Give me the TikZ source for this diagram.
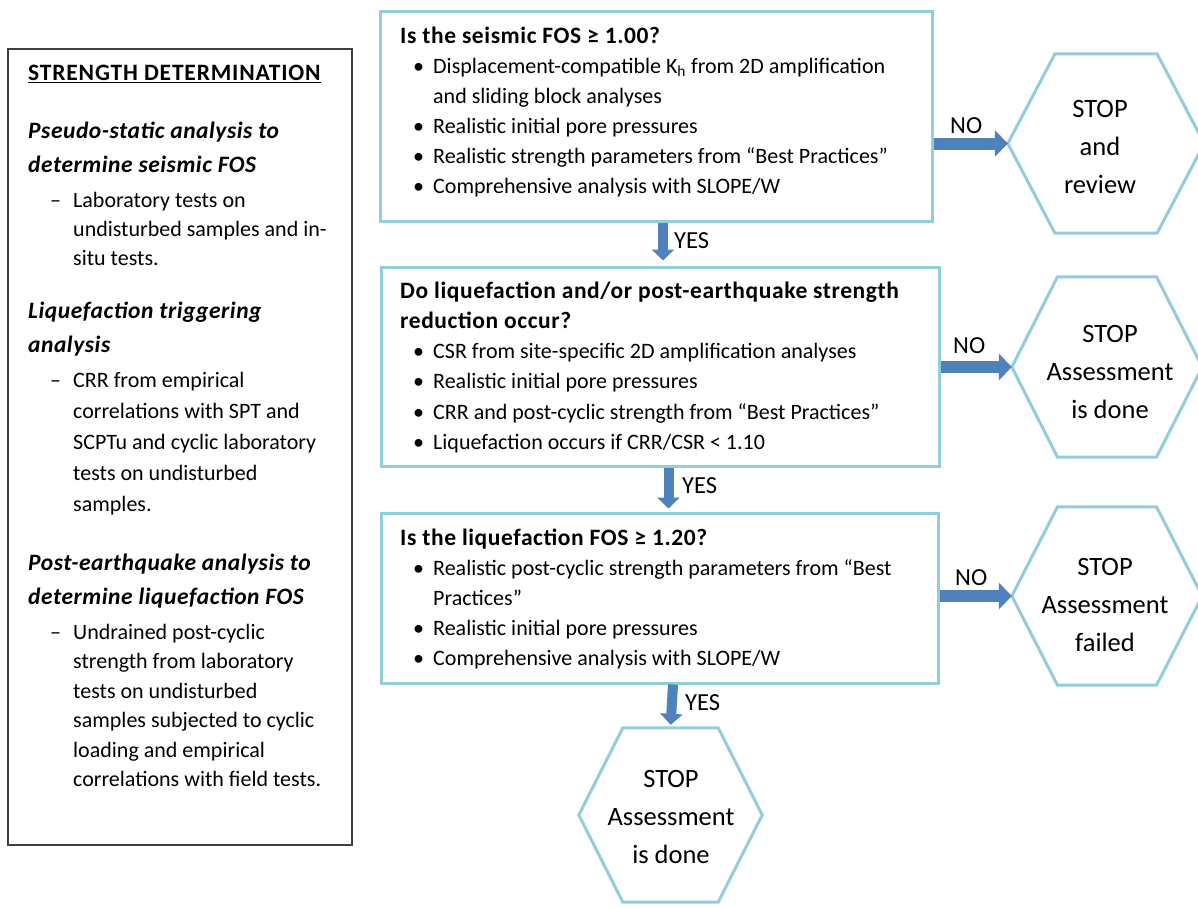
\documentclass[tikz,border=0pt]{standalone}
\usepackage{fontspec}
\setmainfont{Carlito}
\usetikzlibrary{arrows.meta,calc}
\definecolor{boxblue}{HTML}{92CDDC}
\definecolor{arrblue}{HTML}{4F81BD}
\definecolor{panelgray}{HTML}{404040}
\newcommand\bul{\makebox[33pt][l]{\hspace*{13pt}•}}
\newcommand\ind{\hspace*{33pt}}
\newcommand\dsh{\makebox[23pt][l]{–}}
\newcommand\bhead[1]{{\fontsize{23.5}{30}\selectfont\bfseries\addfontfeature{LetterSpace=2.5}#1}}
\newcommand\hexagonof[1]{\draw[hexline] (#1.west) -- ($(#1.north west)!0.24!(#1.north east)$) -- ($(#1.north west)!0.76!(#1.north east)$) -- (#1.east) -- ($(#1.south west)!0.76!(#1.south east)$) -- ($(#1.south west)!0.24!(#1.south east)$) -- cycle;}
\begin{document}
\begin{tikzpicture}[x=1pt,y=-1pt,
  qbox/.style={draw=boxblue, line width=3pt, inner sep=0pt},
  hexbox/.style={inner sep=0pt},
  hexline/.style={draw=boxblue, line width=3pt, line join=miter},
  panel/.style={draw=panelgray, line width=1.3pt, inner sep=0pt},
  boxtext/.style={anchor=north west, inner sep=0pt, align=left, font=\fontsize{22}{30}\selectfont},
  hextext/.style={anchor=north, inner sep=0pt, align=center, font=\fontsize{26.5}{38}\selectfont},
  lbl/.style={anchor=base west, inner sep=0pt, font=\fontsize{24.5}{28}\selectfont},
  harrow/.style={draw=arrblue, line width=12pt, -{Triangle[length=13pt,width=26pt]}},
  varrow/.style={draw=arrblue, line width=10pt, -{Triangle[length=11pt,width=22pt]}},
  ptext/.style={anchor=north west, inner sep=0pt, align=left},
  phead/.style={ptext, font=\fontsize{23.5}{34}\selectfont\bfseries\itshape\addfontfeature{LetterSpace=2.3}}
]
\useasboundingbox (0,0) rectangle (1198,907);
\fill[white] (0,0) rectangle (1198,907);

% left panel
\node[panel, minimum width=344pt, minimum height=796pt] (panel) at (180,447) {};
\node[ptext, font=\fontsize{23.5}{30}\selectfont] (ptitle) at (28,60) {\rule{0pt}{20pt}\underline{{\bfseries\addfontfeature{LetterSpace=3.5}STRENGTH DETERMINATION}}};
\node[phead] (phead1) at (28,118) {\rule{0pt}{20pt}Pseudo-static analysis to\\determine seismic FOS};
\node[ptext, font=\fontsize{22}{29}\selectfont] (pitem1) at (50,187) {\rule{0pt}{20pt}\dsh Laboratory tests on\\\hspace*{23pt}undisturbed samples and in-\\\hspace*{23pt}situ tests.};
\node[phead] (phead2) at (28,298) {\rule{0pt}{20pt}Liquefaction triggering\\analysis};
\node[ptext, font=\fontsize{22}{31}\selectfont] (pitem2) at (50,367) {\rule{0pt}{20pt}\dsh CRR from empirical\\\hspace*{23pt}correlations with SPT and\\\hspace*{23pt}SCPTu and cyclic laboratory\\\hspace*{23pt}tests on undisturbed\\\hspace*{23pt}samples.};
\node[phead] (phead3) at (28,550) {\rule{0pt}{20pt}Post-earthquake analysis to\\determine liquefaction FOS};
\node[ptext, font=\fontsize{22}{29.5}\selectfont] (pitem3) at (50,619) {\rule{0pt}{20pt}\dsh Undrained post-cyclic\\\hspace*{23pt}strength from laboratory\\\hspace*{23pt}tests on undisturbed\\\hspace*{23pt}samples subjected to cyclic\\\hspace*{23pt}loading and empirical\\\hspace*{23pt}correlations with field tests.};

% question boxes
\node[qbox, minimum width=552pt, minimum height=209pt] (box1) at (656,116.5) {};
\node[qbox, minimum width=558pt, minimum height=199pt] (box2) at (660,366.5) {};
\node[qbox, minimum width=557pt, minimum height=170pt] (box3) at (659.5,598) {};

\node[boxtext] (t1) at (400,23) {\rule{0pt}{20pt}\bhead{Is the seismic FOS ≥ 1.00?}\\
\bul Displacement-compatible K\textsubscript{h} from 2D amplification\\
\ind and sliding block analyses\\
\bul Realistic initial pore pressures\\
\bul Realistic strength parameters from “Best Practices”\\
\bul Comprehensive analysis with SLOPE/W};

\node[boxtext, font=\fontsize{22}{30.2}\selectfont] (t2) at (400,278) {\rule{0pt}{20pt}\bhead{Do liquefaction and/or post-earthquake strength}\\
\bhead{reduction occur?}\\
\bul CSR from site-specific 2D amplification analyses\\
\bul Realistic initial pore pressures\\
\bul CRR and post-cyclic strength from “Best Practices”\\
\bul Liquefaction occurs if CRR/CSR < 1.10};

\node[boxtext] (t3) at (400,525) {\rule{0pt}{20pt}\bhead{Is the liquefaction FOS ≥ 1.20?}\\
\bul Realistic post-cyclic strength parameters from “Best\\
\ind Practices”\\
\bul Realistic initial pore pressures\\
\bul Comprehensive analysis with SLOPE/W};

% hexagons
\node[hexbox, minimum width=196pt, minimum height=179pt] (h1) at (1106,143.5) {};
\node[hexbox, minimum width=190pt, minimum height=180pt] (h2) at (1107,367) {};
\node[hexbox, minimum width=190pt, minimum height=178pt] (h3) at (1107,596) {};
\node[hexbox, minimum width=183pt, minimum height=174pt] (h4) at (670.5,815) {};
\hexagonof{h1}
\hexagonof{h2}
\hexagonof{h3}
\hexagonof{h4}

\node[hextext] (h1t) at (1100,97) {\rule{0pt}{20pt}STOP\\and\\review};
\node[hextext] (h2t) at (1110,322) {\rule{0pt}{20pt}STOP\\Assessment\\is done};
\node[hextext] (h3t) at (1105,555) {\rule{0pt}{20pt}STOP\\Assessment\\failed};
\node[hextext] (h4t) at (671,767) {\rule{0pt}{20pt}STOP\\Assessment\\is done};

% arrows
\draw[harrow] (box1.east |- h1.west) -- (h1.west);
\draw[harrow] (box2.east |- h2.west) -- (h2.west);
\draw[harrow] (box3.east |- h3.west) -- (h3.west);
\draw[varrow, shorten >=5pt] ([xshift=7pt]box1.south) -- ([xshift=3pt]box2.north);
\draw[varrow, shorten >=3pt] ([xshift=8.5pt]box2.south) -- ([xshift=9pt]box3.north);
\draw[varrow, shorten >=3pt] ([xshift=13.5pt]box3.south) -- (h4.north);

% labels
\node[lbl] (no1) at (950,133) {NO};
\node[lbl] (no2) at (953,353) {NO};
\node[lbl] (no3) at (955,585) {NO};
\node[lbl] (yes1) at (674,248) {YES};
\node[lbl] (yes2) at (682,493) {YES};
\node[lbl] (yes3) at (685,710) {YES};
\end{tikzpicture}
\end{document}
